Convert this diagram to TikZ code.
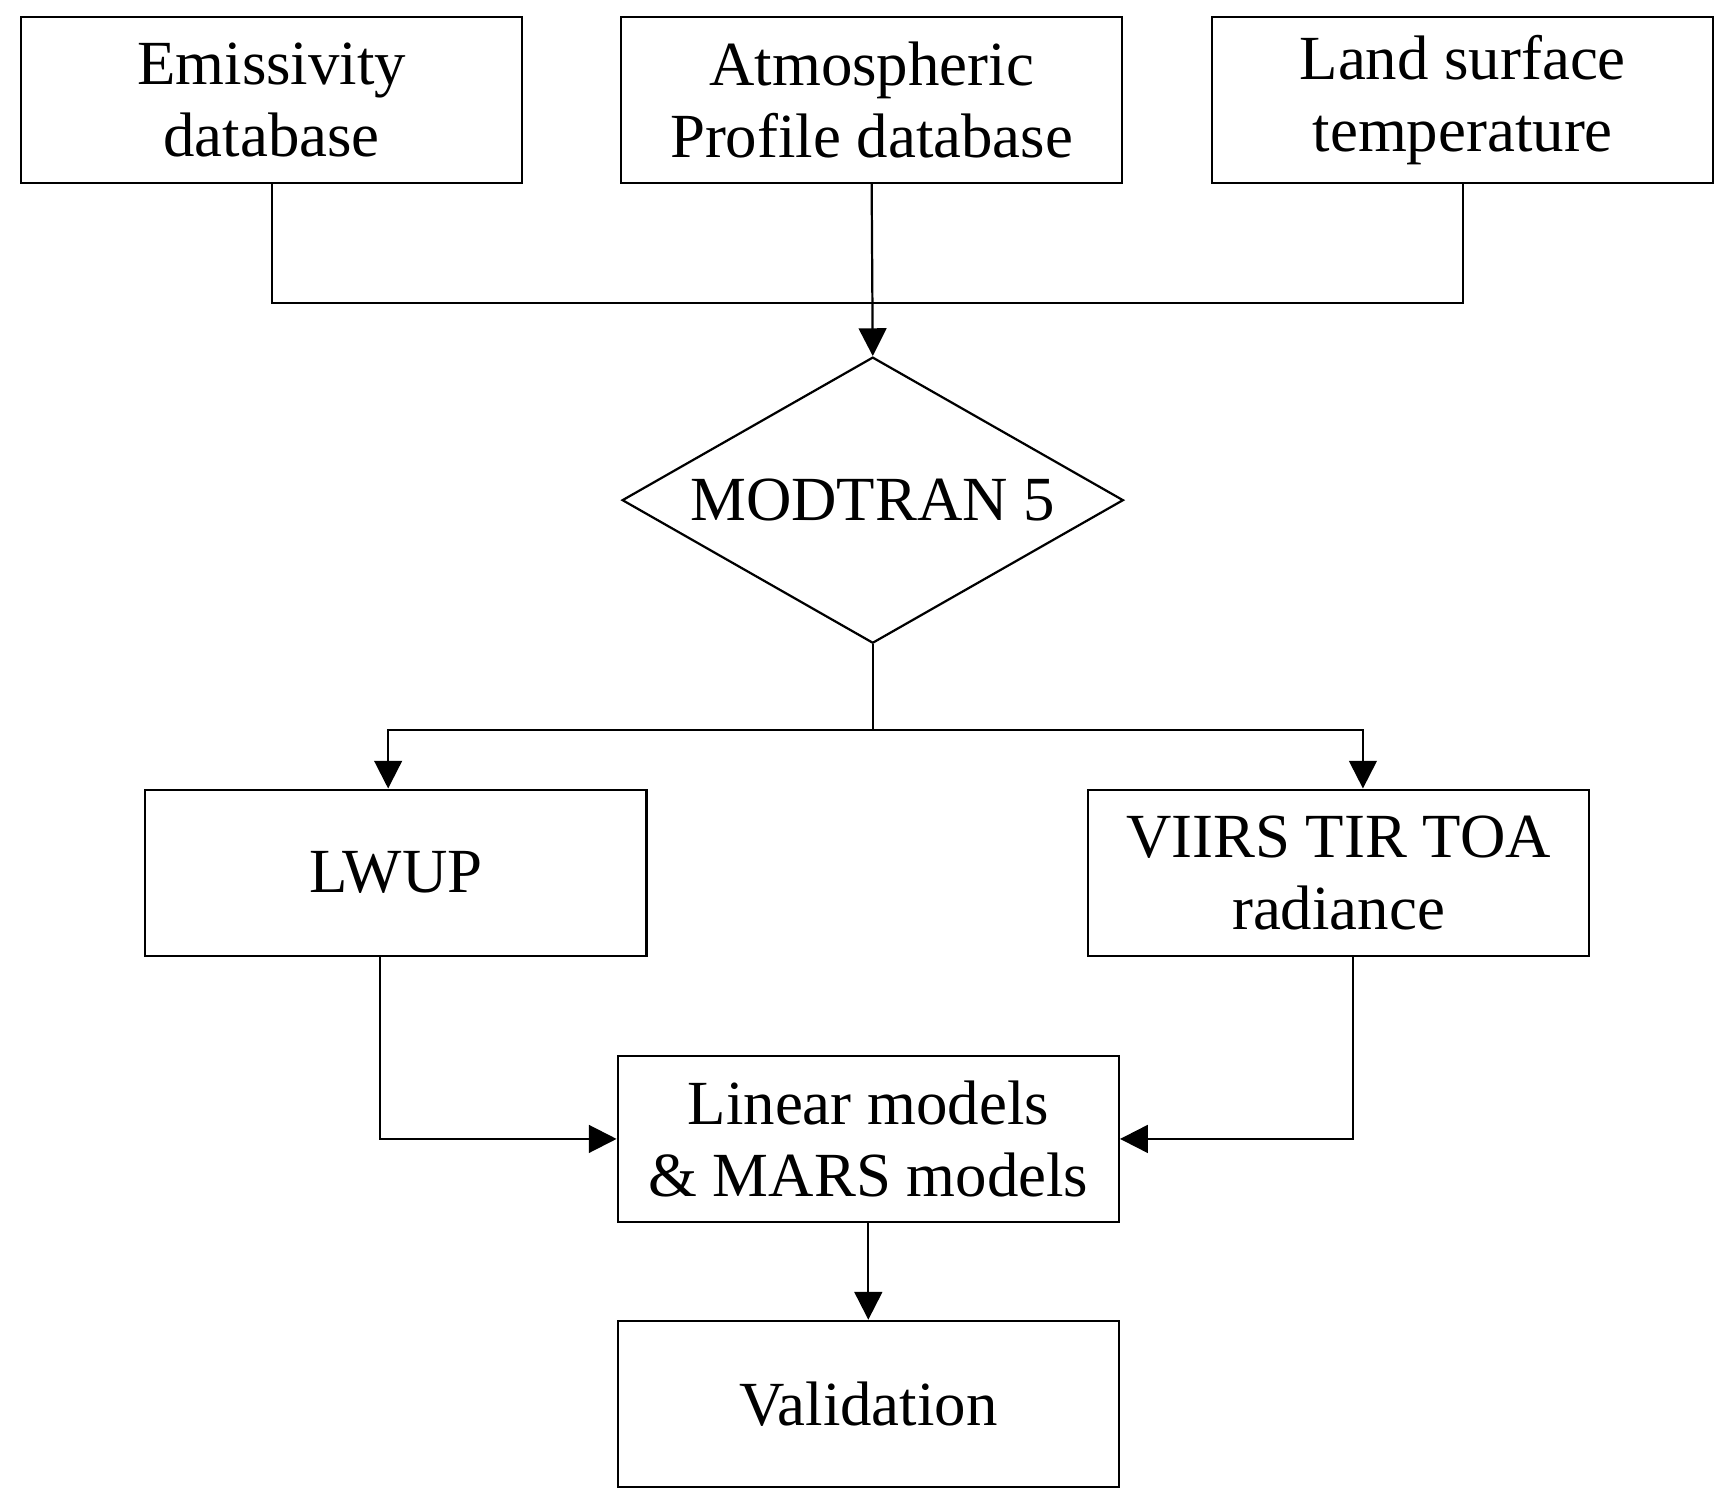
\documentclass[tikz,border=0pt]{standalone}
\usepackage{fontspec}
\setmainfont{Liberation Serif}
\usetikzlibrary{arrows.meta,shapes.geometric}
\begin{document}
\begin{tikzpicture}[x=0.3pt,y=-0.3pt,
  box/.style={draw,line width=0.6pt,minimum width=135.6pt,minimum height=45pt,align=center,font=\fontsize{17}{19.5}\selectfont,inner sep=0pt},
  con/.style={line width=0.6pt},
  arr/.style={con,-{Triangle[length=7.5pt,width=7.5pt]}}]
\useasboundingbox (0,0) rectangle (1560,1355);
\node[box] (emi) at (245,90) {Emissivity\\database};
\node[box] (atm) at (786,90) {Atmospheric\\Profile database};
\node[box] (lst) at (1319,90) {Land surface\\temperature};
\node[draw,diamond,line width=0.6pt,minimum width=135.6pt,minimum height=77.4pt,inner sep=0pt,aspect=1.75,font=\fontsize{17}{19.5}\selectfont] (mod) at (787,451) {MODTRAN 5};
\node[box] (lw) at (357,787) {LWUP};
\node[box] (vi) at (1207,787) {VIIRS TIR TOA\\radiance};
\node[box] (lin) at (783,1027) {Linear models\\\& MARS models};
\node[box] (val) at (783,1266) {Validation};
\coordinate (j1) at (787,273);
\coordinate (j2) at (787,658);
\draw[con] (emi.south) |- (j1) -| (lst.south);
\draw[arr] (atm.south) -- (mod.north);
\draw[con] (mod.south) -- (j2);
\draw[arr] (j2) -| ([xshift=-2.1pt]lw.north);
\draw[arr] (j2) -| ([xshift=6.6pt]vi.north);
\draw[arr] ([xshift=-4.2pt]lw.south) |- (lin.west);
\draw[arr] ([xshift=3.9pt]vi.south) |- (lin.east);
\draw[arr] (lin.south) -- (val.north);
\end{tikzpicture}
\end{document}
